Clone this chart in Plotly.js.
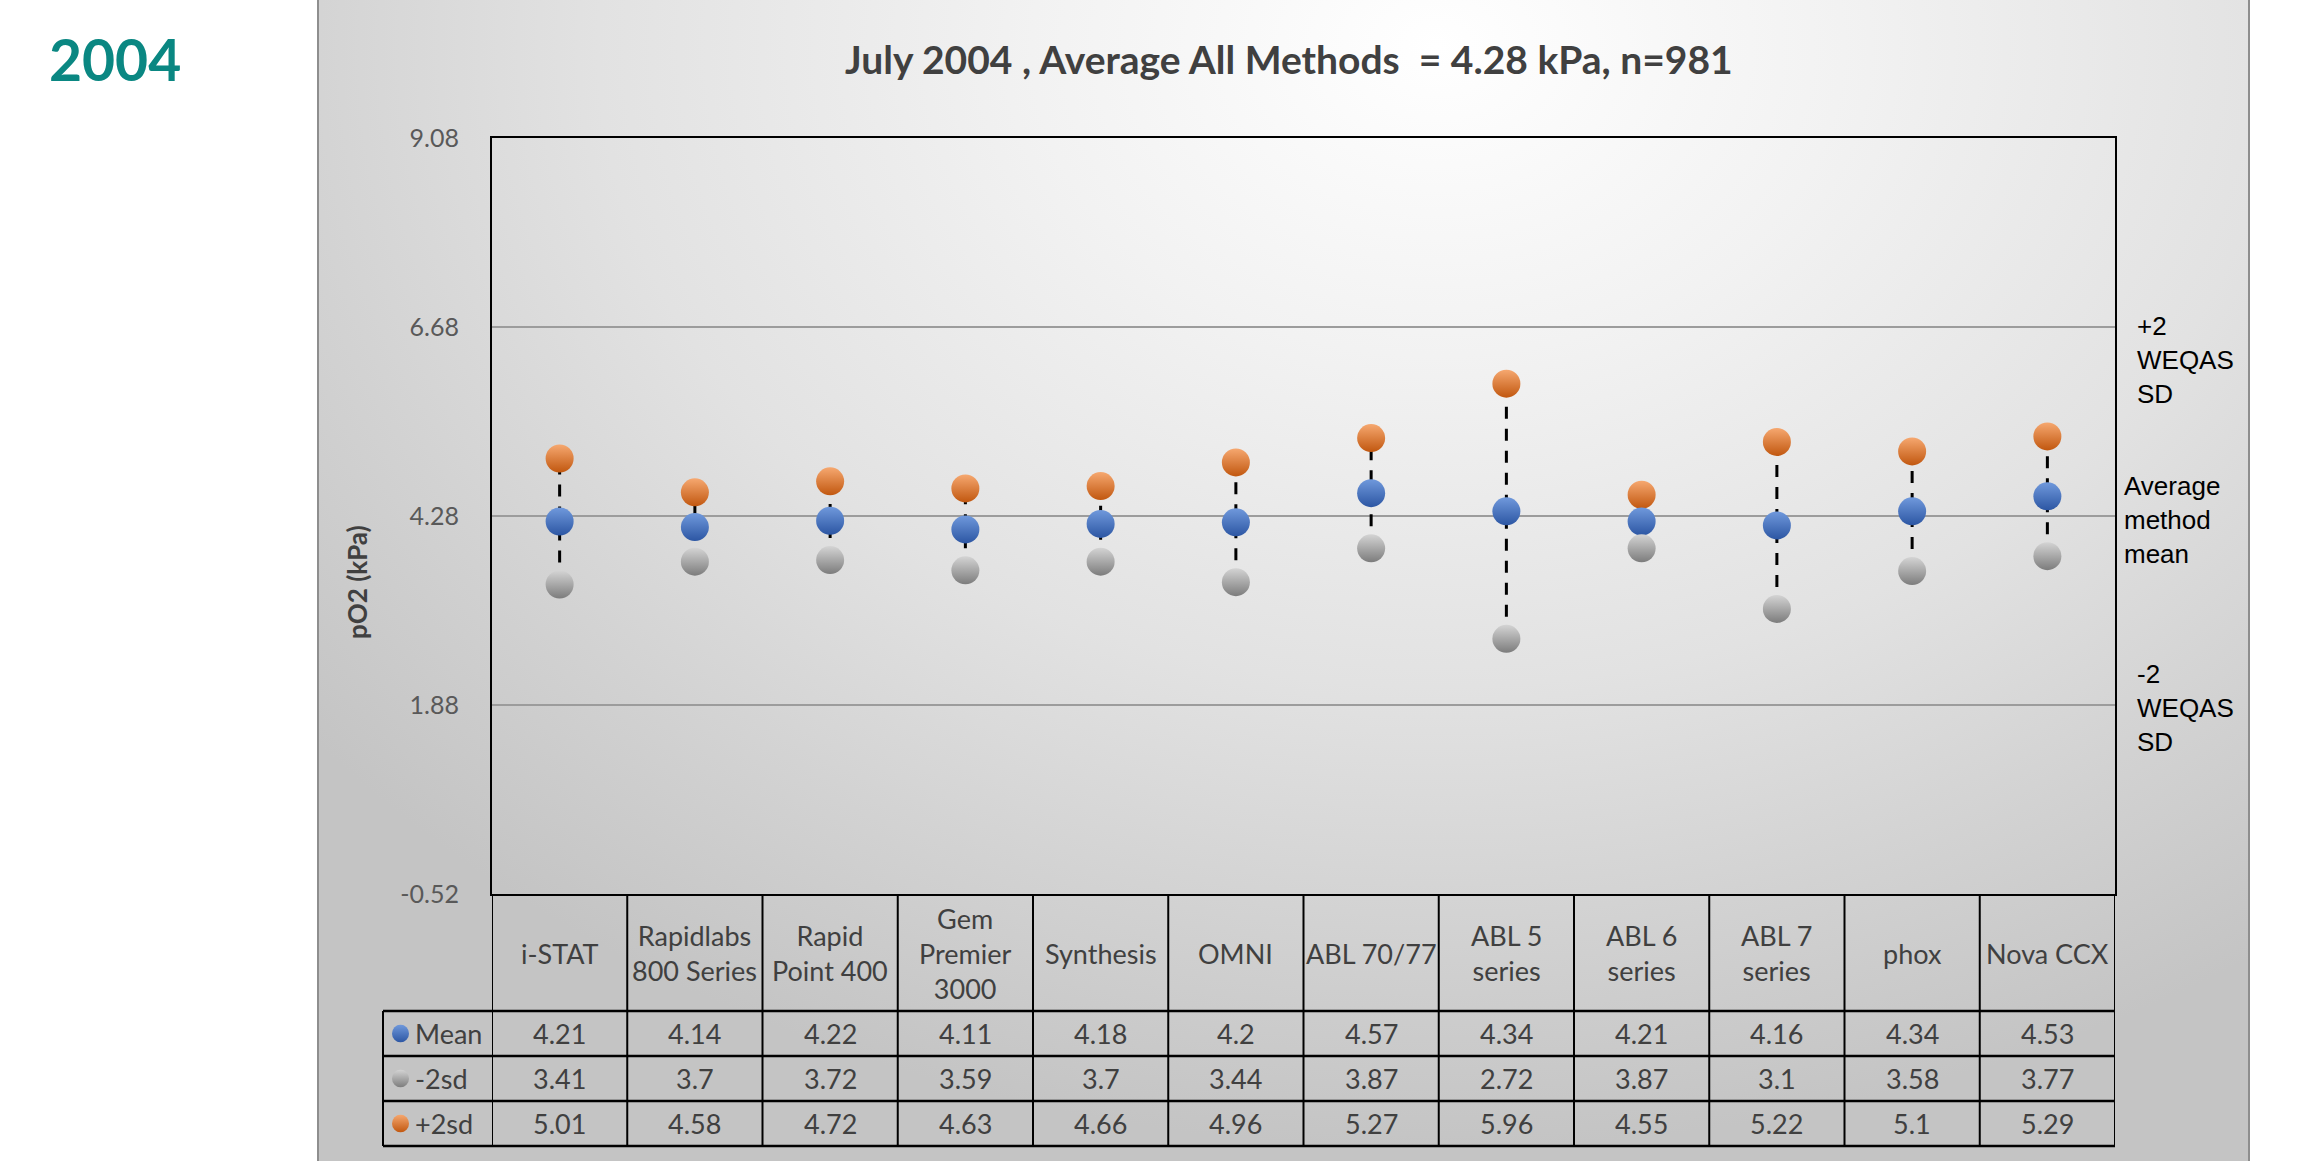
<!DOCTYPE html>
<html>
<head>
<meta charset="utf-8">
<script src="https://cdn.plot.ly/plotly-3.0.1.min.js"></script>
<style>
  html, body { margin: 0; padding: 0; background: #ffffff; }
  #wrap { position: relative; width: 2302px; height: 1161px; overflow: hidden; background: #ffffff; }
  #panel {
    position: absolute; left: 317px; top: 0px; width: 1929px; height: 1161px;
    border-left: 2px solid #8e8e8e; border-right: 2px solid #8e8e8e;
    background: radial-gradient(ellipse 75% 95% at 58% 4%, #ffffff 0%, #f2f2f2 28%, #e2e2e2 58%, #d2d2d2 80%, #c4c4c4 100%);
  }
  #chart { position: absolute; left: 0; top: 0; width: 2302px; height: 1161px; }
</style>
</head>
<body>
<div id="wrap">
  <div id="panel"></div>
  <div id="chart"></div>
</div>
<script>
// ---- data ----
const categories = ["i-STAT", "Rapidlabs<br>800 Series", "Rapid<br>Point 400", "Gem<br>Premier<br>3000", "Synthesis", "OMNI", "ABL 70/77", "ABL 5<br>series", "ABL 6<br>series", "ABL 7<br>series", "phox", "Nova CCX"];
const means    = [4.21, 4.14, 4.22, 4.11, 4.18, 4.2, 4.57, 4.34, 4.21, 4.16, 4.34, 4.53];
const minus2sd = [3.41, 3.7, 3.72, 3.59, 3.7, 3.44, 3.87, 2.72, 3.87, 3.1, 3.58, 3.77];
const plus2sd  = [5.01, 4.58, 4.72, 4.63, 4.66, 4.96, 5.27, 5.96, 4.55, 5.22, 5.1, 5.29];
const yTicks   = [9.08, 6.68, 4.28, 1.88, -0.52];
const yTickText = ["9.08", "6.68", "4.28", "1.88", "-0.52"];
const rowNames = ["Mean", "-2sd", "+2sd"];
const titleText = "July 2004 , Average All Methods \u00A0= 4.28 kPa, n=981";
const yearText = "2004";
const yTitle = "pO2 (kPa)";
const upperNote = "+2<br>WEQAS<br>SD";
const meanNote = "Average<br>method<br>mean";
const lowerNote = "-2<br>WEQAS<br>SD";

// ---- geometry (pixels) ----
const W = 2302, H = 1161;
const L = 492, R = 2115, T = 138, B = 894;
const yMin = -0.52, yMax = 9.08;
const n = categories.length;
const pyPaper = p => (B - p) / (B - T);
const pxPaper = p => (p - L) / (R - L);

const rowLines = [1011, 1056, 1101, 1146];
const rowCenters = [1033.5, 1078.5, 1123.5];
const headerCenter = 953;
const labelColLeft = 383;

const xs = categories.map((_, i) => i);

const colors = {
  mean:  ["#7099dc", "#2c56a3"],
  minus: ["#d4d4d4", "#7c7c7c"],
  plus:  ["#f6a870", "#c1570f"]
};

const textFont = {family: "Lato, 'Open Sans', sans-serif", size: 27, color: "#404040"};

// ---- traces ----
const lx = [], ly = [];
xs.forEach(i => { lx.push(i, i, null); ly.push(minus2sd[i], plus2sd[i], null); });

const traces = [
  {x: lx, y: ly, mode: "lines", line: {color: "#000000", width: 3, dash: "12px,10px"},
   hoverinfo: "skip", showlegend: false},
  {x: xs, y: plus2sd, mode: "markers", name: "+2sd", hoverinfo: "skip", showlegend: false,
   marker: {size: 28, color: colors.plus[0], line: {width: 0}, gradient: {type: "vertical", color: colors.plus[1]}}},
  {x: xs, y: means, mode: "markers", name: "Mean", hoverinfo: "skip", showlegend: false,
   marker: {size: 28, color: colors.mean[0], line: {width: 0}, gradient: {type: "vertical", color: colors.mean[1]}}},
  {x: xs, y: minus2sd, mode: "markers", name: "-2sd", hoverinfo: "skip", showlegend: false,
   marker: {size: 28, color: colors.minus[0], line: {width: 0}, gradient: {type: "vertical", color: colors.minus[1]}}}
];

// legend keys (gradient dots) in the table's row-label cells
const keyColors = [colors.mean, colors.minus, colors.plus];
function dotSvg(c) {
  const s = "<svg xmlns='http://www.w3.org/2000/svg' width='34' height='36' viewBox='0 0 34 36'>" +
    "<defs><linearGradient id='g' x1='0' y1='0' x2='0' y2='1'>" +
    "<stop offset='0' stop-color='" + c[0] + "'/><stop offset='1' stop-color='" + c[1] + "'/>" +
    "</linearGradient></defs><ellipse cx='17' cy='18' rx='17' ry='18' fill='url(#g)'/></svg>";
  return "data:image/svg+xml;charset=utf-8," + encodeURIComponent(s);
}
const images = rowNames.map((nm, r) => ({
  source: dotSvg(keyColors[r]), xref: "paper", yref: "paper",
  x: pxPaper(392), y: pyPaper(rowCenters[r] - 9),
  sizex: 17 / (R - L), sizey: 18 / (B - T), sizing: "stretch",
  xanchor: "left", yanchor: "top", layer: "above"
}));

// ---- shapes: table grid ----
const shapes = [];
const lineStyle = {color: "#000000", width: 2};
for (let k = 0; k <= n; k++) {
  shapes.push({type: "line", xref: "x", yref: "paper", x0: k - 0.5, x1: k - 0.5,
    y0: pyPaper(B), y1: pyPaper(rowLines[3]), line: lineStyle});
}
shapes.push({type: "line", xref: "paper", yref: "paper", x0: pxPaper(labelColLeft), x1: pxPaper(labelColLeft),
  y0: pyPaper(rowLines[0]), y1: pyPaper(rowLines[3]), line: lineStyle});
rowLines.forEach(p => {
  shapes.push({type: "line", xref: "paper", yref: "paper", x0: pxPaper(labelColLeft), x1: 1,
    y0: pyPaper(p), y1: pyPaper(p), line: {color: "#000000", width: 2.5}});
});

// ---- annotations ----
const annotations = [];
categories.forEach((c, i) => {
  annotations.push({xref: "x", yref: "paper", x: i, y: pyPaper(headerCenter), text: c, showarrow: false,
    xanchor: "center", yanchor: "middle", align: "center", font: textFont});
});
[means, minus2sd, plus2sd].forEach((arr, r) => {
  arr.forEach((v, i) => {
    annotations.push({xref: "x", yref: "paper", x: i, y: pyPaper(rowCenters[r]), text: String(v), showarrow: false,
      xanchor: "center", yanchor: "middle", font: textFont});
  });
  annotations.push({xref: "paper", yref: "paper", x: pxPaper(413), y: pyPaper(rowCenters[r]), text: rowNames[r],
    showarrow: false, xanchor: "left", yanchor: "middle", font: textFont});
});

const noteFont = {family: "'Liberation Sans', Arial, sans-serif", size: 26, color: "#000000"};
annotations.push({xref: "paper", yref: "paper", x: pxPaper(2135), y: pyPaper(360), text: upperNote,
  showarrow: false, xanchor: "left", yanchor: "middle", align: "left", font: noteFont});
annotations.push({xref: "paper", yref: "paper", x: pxPaper(2122), y: pyPaper(520), text: meanNote,
  showarrow: false, xanchor: "left", yanchor: "middle", align: "left", font: noteFont});
annotations.push({xref: "paper", yref: "paper", x: pxPaper(2135), y: pyPaper(708), text: lowerNote,
  showarrow: false, xanchor: "left", yanchor: "middle", align: "left", font: noteFont});

annotations.push({xref: "paper", yref: "paper", x: pxPaper(357), y: pyPaper(582), text: "<b>" + yTitle + "</b>",
  showarrow: false, textangle: -90, xanchor: "center", yanchor: "middle",
  font: {family: "Lato, 'Open Sans', sans-serif", size: 26, color: "#404040"}});

annotations.push({xref: "paper", yref: "paper", x: pxPaper(1289), y: pyPaper(59), text: "<b>" + titleText + "</b>",
  showarrow: false, xanchor: "center", yanchor: "middle",
  font: {family: "Lato, 'Open Sans', sans-serif", size: 39, color: "#404040"}});

annotations.push({xref: "paper", yref: "paper", x: pxPaper(47), y: pyPaper(59), text: "<b>" + yearText + "</b>",
  showarrow: false, xanchor: "left", yanchor: "middle",
  font: {family: "Lato, 'Open Sans', sans-serif", size: 57, color: "#0a8782"}});

const layout = {
  width: W, height: H,
  margin: {l: L, r: W - R, t: T, b: H - B, pad: 0},
  paper_bgcolor: "rgba(0,0,0,0)",
  plot_bgcolor: "rgba(0,0,0,0)",
  showlegend: false,
  xaxis: {range: [-0.5, n - 0.5], showticklabels: false, ticks: "", showgrid: false, zeroline: false,
    showline: true, mirror: true, linecolor: "#000000", linewidth: 2, fixedrange: true},
  yaxis: {range: [yMin, yMax], tickvals: yTicks, ticktext: yTickText, ticks: "", ticklabelstandoff: 26,
    showgrid: true, gridcolor: "#9c9c9c", gridwidth: 2, zeroline: false,
    showline: true, mirror: true, linecolor: "#000000", linewidth: 2, fixedrange: true,
    tickfont: {family: "Lato, 'Open Sans', sans-serif", size: 25, color: "#595959"}},
  shapes: shapes,
  images: images,
  annotations: annotations
};

Plotly.newPlot("chart", traces, layout, {staticPlot: true, displayModeBar: false});
</script>
</body>
</html>
